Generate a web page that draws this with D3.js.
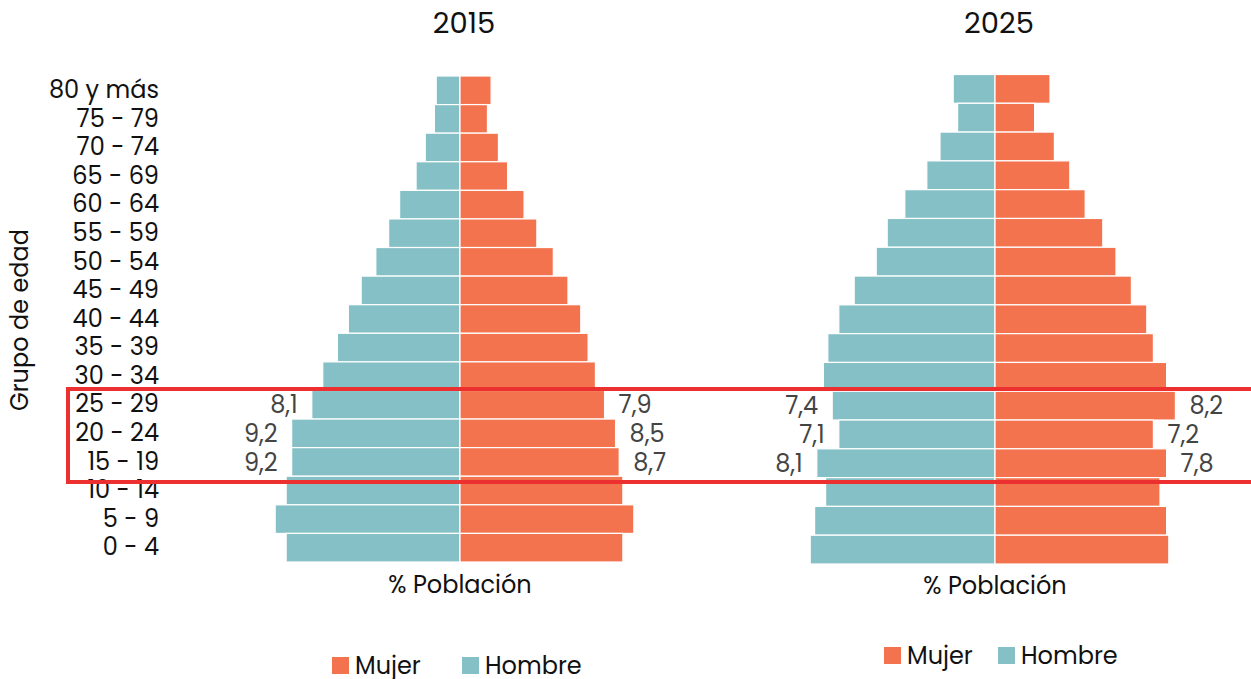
<!DOCTYPE html>
<html lang="es">
  <head>
    <meta charset="utf-8">
    <script src="https://d3js.org/d3.v7.min.js"></script>
    <style>
      body { margin: 0; background: #fff; }
      svg text { font-family: Poppins, "Open Sans", sans-serif; }
    </style>
  </head>
  <body>
    <script>
      // age groups, top to bottom
      var grupos = ["80 y más", "75 - 79", "70 - 74", "65 - 69", "60 - 64", "55 - 59",
                    "50 - 54", "45 - 49", "40 - 44", "35 - 39", "30 - 34", "25 - 29",
                    "20 - 24", "15 - 19", "10 - 14", "5 - 9", "0 - 4"];

      // % population per year and sex (same order as grupos)
      var hombre2015 = [1.3, 1.4, 1.9, 2.4, 3.3, 3.9, 4.6, 5.4, 6.1, 6.7, 7.5, 8.1, 9.2, 9.2, 9.5, 10.1, 9.5];
      var mujer2015  = [1.7, 1.5, 2.1, 2.6, 3.5, 4.2, 5.1, 5.9, 6.6, 7.0, 7.4, 7.9, 8.5, 8.7, 8.9, 9.5, 8.9];
      var hombre2025 = [1.9, 1.7, 2.5, 3.1, 4.1, 4.9, 5.4, 6.4, 7.1, 7.6, 7.8, 7.4, 7.1, 8.1, 7.7, 8.2, 8.4];
      var mujer2025  = [2.5, 1.8, 2.7, 3.4, 4.1, 4.9, 5.5, 6.2, 6.9, 7.2, 7.8, 8.2, 7.2, 7.8, 7.5, 7.8, 7.9];

      // groups that get a value label
      var etiquetados = ["25 - 29", "20 - 24", "15 - 19"];

      var colMujer = "#f4734f";
      var colHombre = "#85c0c6";
      var fuente = 24;

      var w = 1251, h = 679;
      var svg = d3.select("body").append("svg").attr("width", w).attr("height", h);

      var fmt = function(v) { return d3.format(".1f")(v).replace(".", ","); };

      // one pyramid
      function piramide(cfg) {
        var y = d3.scaleBand().domain(grupos).range([cfg.top, cfg.bottom]).padding(0);
        var x = d3.scaleLinear().domain([0, 10]).range([0, cfg.pxPer10]);

        var filas = grupos.map(function(g, i) {
          return { grupo: g, hombre: cfg.hombre[i], mujer: cfg.mujer[i] };
        });

        var g = svg.append("g");

        g.selectAll("rect.hombre")
          .data(filas)
          .enter()
          .append("rect")
          .attr("class", "hombre")
          .attr("x", function(d) { return cfg.cx - x(d.hombre); })
          .attr("y", function(d) { return y(d.grupo); })
          .attr("width", function(d) { return x(d.hombre); })
          .attr("height", y.bandwidth())
          .attr("fill", colHombre)
          .attr("stroke", "#fff")
          .attr("stroke-width", 1.2);

        g.selectAll("rect.mujer")
          .data(filas)
          .enter()
          .append("rect")
          .attr("class", "mujer")
          .attr("x", cfg.cx)
          .attr("y", function(d) { return y(d.grupo); })
          .attr("width", function(d) { return x(d.mujer); })
          .attr("height", y.bandwidth())
          .attr("fill", colMujer)
          .attr("stroke", "#fff")
          .attr("stroke-width", 1.2);

        // value labels
        var lab = filas.filter(function(d) { return etiquetados.indexOf(d.grupo) >= 0; });
        g.selectAll("text.lh")
          .data(lab)
          .enter()
          .append("text")
          .attr("x", function(d) { return cfg.cx - x(d.hombre) - 14; })
          .attr("y", function(d) { return y(d.grupo) + y.bandwidth() / 2; })
          .attr("dy", "0.36em")
          .attr("text-anchor", "end")
          .attr("font-size", fuente)
          .attr("fill", "#444")
          .text(function(d) { return fmt(d.hombre); });
        g.selectAll("text.lm")
          .data(lab)
          .enter()
          .append("text")
          .attr("x", function(d) { return cfg.cx + x(d.mujer) + 14; })
          .attr("y", function(d) { return y(d.grupo) + y.bandwidth() / 2; })
          .attr("dy", "0.36em")
          .attr("text-anchor", "start")
          .attr("font-size", fuente)
          .attr("fill", "#444")
          .text(function(d) { return fmt(d.mujer); });

        // title
        g.append("text")
          .attr("x", cfg.cx + 4)
          .attr("y", 33)
          .attr("text-anchor", "middle")
          .attr("font-size", 29)
          .attr("fill", "#111")
          .text(cfg.anio);

        // x axis title
        g.append("text")
          .attr("x", cfg.cx)
          .attr("y", cfg.xTitleY)
          .attr("text-anchor", "middle")
          .attr("font-size", fuente)
          .attr("fill", "#111")
          .text("% Población");

        // legend
        var leg = g.append("g").attr("transform", "translate(" + cfg.legX + "," + cfg.legY + ")");
        var items = [["Mujer", colMujer, 0], ["Hombre", colHombre, cfg.legGap]];
        items.forEach(function(it) {
          leg.append("rect").attr("x", it[2]).attr("y", -17).attr("width", 17).attr("height", 17).attr("fill", it[1]);
          leg.append("text").attr("x", it[2] + 23).attr("y", 0).attr("font-size", fuente).attr("fill", "#111").text(it[0]);
        });

        return y;
      }

      var y2015 = piramide({ anio: "2015", cx: 460, top: 76, bottom: 562, pxPer10: 183,
                             hombre: hombre2015, mujer: mujer2015, xTitleY: 593,
                             legX: 332, legY: 674, legGap: 130 });
      piramide({ anio: "2025", cx: 995, top: 74.5, bottom: 564, pxPer10: 220,
                 hombre: hombre2025, mujer: mujer2025, xTitleY: 594,
                 legX: 884, legY: 664, legGap: 114 });

      // age group axis
      svg.append("g")
        .attr("transform", "translate(159,0)")
        .call(d3.axisLeft(y2015).tickSize(0).tickPadding(0))
        .call(function(a) { a.select(".domain").remove(); })
        .selectAll("text")
        .attr("font-size", fuente)
        .attr("fill", "#111")
        .style("font-family", "Poppins, 'Open Sans', sans-serif");

      svg.append("text")
        .attr("transform", "translate(28,320) rotate(-90)")
        .attr("text-anchor", "middle")
        .attr("font-size", fuente)
        .attr("fill", "#111")
        .text("Grupo de edad");

      // highlight box
      svg.append("rect")
        .attr("x", 68)
        .attr("y", 389)
        .attr("width", 1250)
        .attr("height", 93)
        .attr("fill", "none")
        .attr("stroke", "#ec2f2f")
        .attr("stroke-width", 4);
    </script>
  </body>
</html>
